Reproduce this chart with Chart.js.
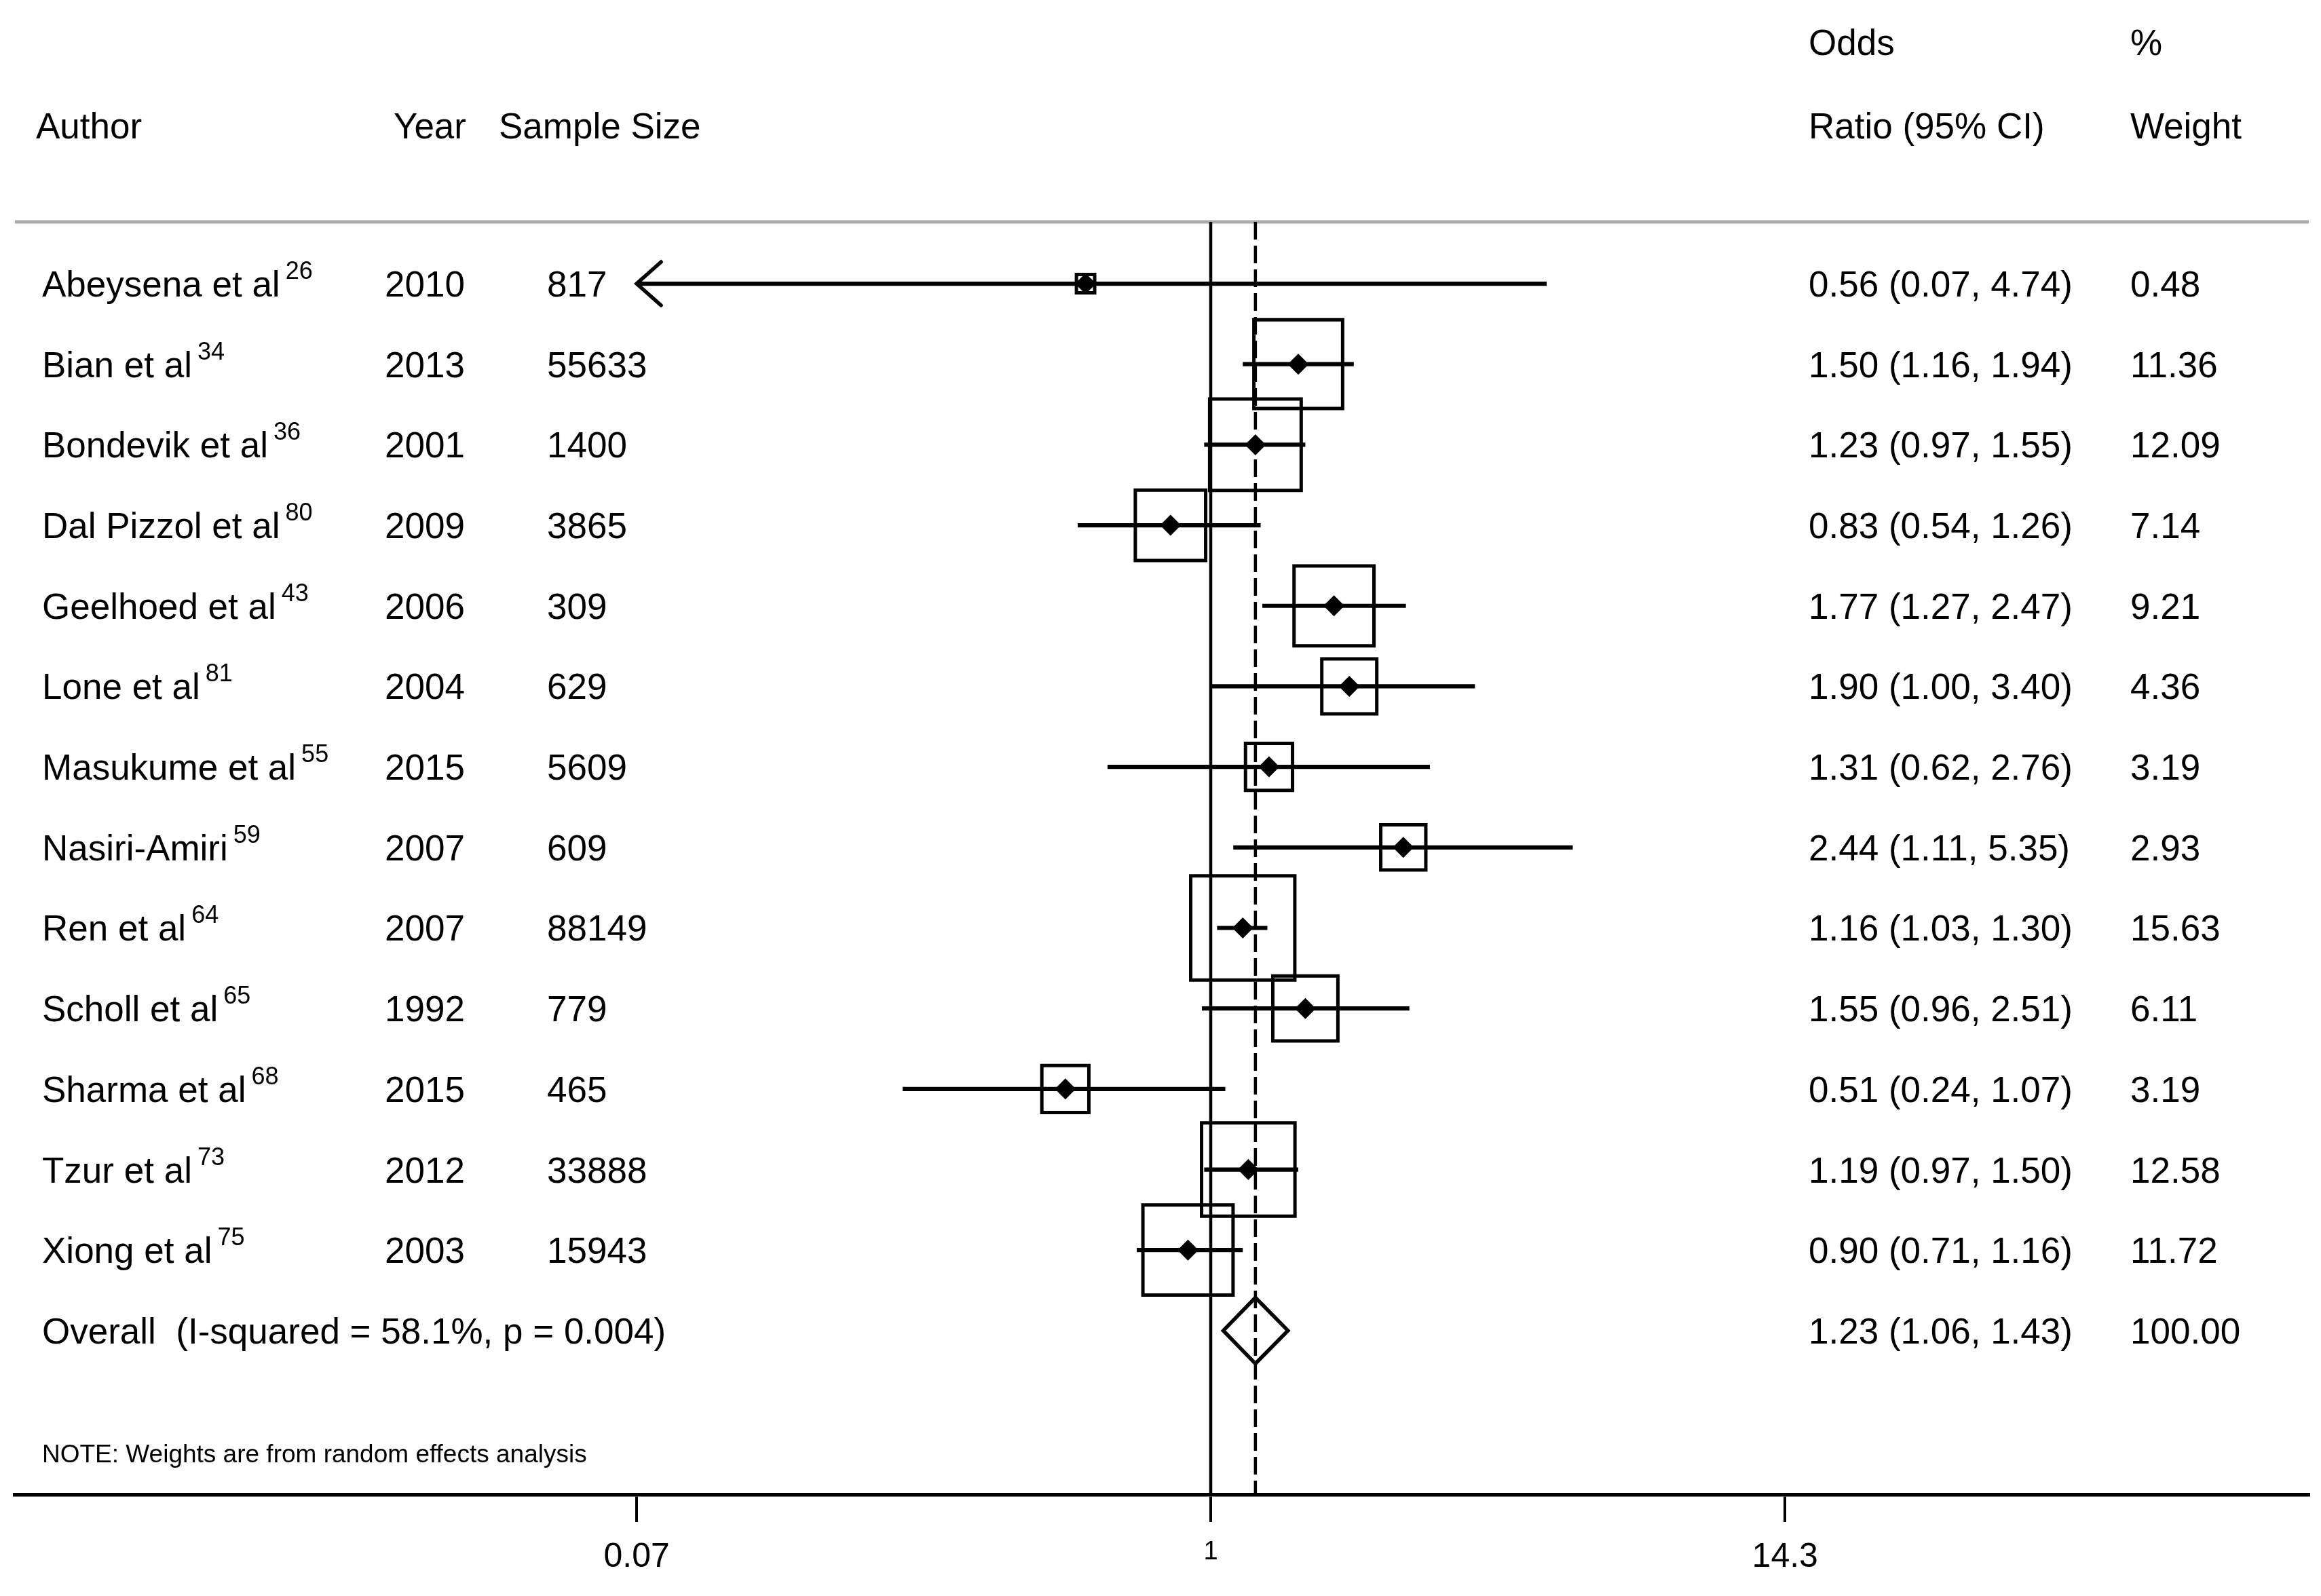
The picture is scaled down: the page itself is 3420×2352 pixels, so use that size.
<!DOCTYPE html>
<html>
<head>
<meta charset="utf-8">
<script src="https://cdn.jsdelivr.net/npm/chart.js@4.4.1/dist/chart.umd.min.js"></script>
<style>
html,body{margin:0;padding:0;background:#fff;}
#wrap{width:3420px;height:2352px;position:relative;}
canvas{display:block;}
</style>
</head>
<body>
<div id="wrap"><canvas id="c" width="3420" height="2352"></canvas></div>
<script>
// ---------- data ----------
const authors = ['Abeysena et al','Bian et al','Bondevik et al','Dal Pizzol et al','Geelhoed et al','Lone et al','Masukume et al','Nasiri-Amiri','Ren et al','Scholl et al','Sharma et al','Tzur et al','Xiong et al'];
const refNumbers = ['26','34','36','80','43','81','55','59','64','65','68','73','75'];
const years = ['2010','2013','2001','2009','2006','2004','2015','2007','2007','1992','2015','2012','2003'];
const sampleSizes = ['817','55633','1400','3865','309','629','5609','609','88149','779','465','33888','15943'];
const oddsRatios = [0.56,1.50,1.23,0.83,1.77,1.90,1.31,2.44,1.16,1.55,0.51,1.19,0.90];
const ciLower = [0.07,1.16,0.97,0.54,1.27,1.00,0.62,1.11,1.03,0.96,0.24,0.97,0.71];
const ciUpper = [4.74,1.94,1.55,1.26,2.47,3.40,2.76,5.35,1.30,2.51,1.07,1.50,1.16];
const weights = [0.48,11.36,12.09,7.14,9.21,4.36,3.19,2.93,15.63,6.11,3.19,12.58,11.72];
const overallLabel = 'Overall  (I-squared = 58.1%, p = 0.004)';
const overallOR = [1.23];
const overallLower = [1.06];
const overallUpper = [1.43];
const overallWeight = ['100.00'];
const xTickValues = [0.07, 1, 14.3];
const xTickLabels = ['0.07', '1', '14.3'];
const noteText = 'NOTE: Weights are from random effects analysis';

// ---------- style / layout ----------
const FONT = '"Liberation Sans", Arial, Helvetica, sans-serif';
const X_MIN = 0.00393, X_MAX = 161.8;
const Y_MIN = -0.767, Y_MAX = 15.04;
const BOX_SCALE = 38.8;          // box side (px) per sqrt(weight)
const DIAMOND_HALF = 0.41;       // overall diamond half height (row units)
const overallRow = authors.length;

const fmt = v => v.toFixed(2);

const boxData = oddsRatios.map((v, i) => ({x: v, y: i}));
const boxRadius = weights.map(w => BOX_SCALE * Math.sqrt(w) / (2 * Math.SQRT1_2));

const datasets = [];
datasets.push({
  label: 'markers', type: 'scatter', order: 0,
  data: boxData, pointStyle: 'rectRot', pointRadius: 15.5,
  pointBackgroundColor: '#000', pointBorderWidth: 0, showLine: false
});
oddsRatios.forEach((v, i) => {
  datasets.push({
    label: 'ci' + i, type: 'line', order: 1,
    data: [{x: ciLower[i], y: i}, {x: ciUpper[i], y: i}],
    borderColor: '#000', borderWidth: 6.2, pointRadius: 0, fill: false, tension: 0,
    borderCapStyle: 'butt'
  });
});
datasets.push({
  label: 'boxes', type: 'scatter', order: 2,
  data: boxData, pointStyle: 'rect', pointRadius: boxRadius,
  pointBackgroundColor: 'rgba(0,0,0,0)', pointBorderColor: '#000', pointBorderWidth: 5,
  showLine: false
});
datasets.push({
  label: 'overall', type: 'line', order: 1,
  data: [
    {x: overallLower[0], y: overallRow},
    {x: overallOR[0], y: overallRow - DIAMOND_HALF},
    {x: overallUpper[0], y: overallRow},
    {x: overallOR[0], y: overallRow + DIAMOND_HALF},
    {x: overallLower[0], y: overallRow},
    {x: overallOR[0], y: overallRow - DIAMOND_HALF}
  ],
  borderColor: '#000', borderWidth: 5.5, pointRadius: 0, fill: false, tension: 0,
  borderJoinStyle: 'miter'
});
datasets.push({
  label: 'null', type: 'line', order: 3,
  data: [{x: 1, y: Y_MIN}, {x: 1, y: Y_MAX}],
  borderColor: '#000', borderWidth: 4.5, pointRadius: 0, fill: false
});
datasets.push({
  label: 'overallLine', type: 'line', order: 3,
  data: [{x: overallOR[0], y: Y_MIN}, {x: overallOR[0], y: Y_MAX}],
  borderColor: '#000', borderWidth: 4.5, borderDash: [26, 9], pointRadius: 0, fill: false
});

// ---------- text / decorations plugin ----------
const tablePlugin = {
  id: 'tablePlugin',
  beforeDatasetsDraw(chart) {
    const {ctx, chartArea} = chart;
    ctx.save();
    ctx.strokeStyle = '#ababab';
    ctx.lineWidth = 5;
    ctx.beginPath();
    ctx.moveTo(chartArea.left, chartArea.top);
    ctx.lineTo(chartArea.right, chartArea.top);
    ctx.stroke();
    ctx.restore();
  },
  afterDatasetsDraw(chart) {
    const {ctx} = chart;
    const xs = chart.scales.x, ys = chart.scales.y;
    ctx.save();
    ctx.fillStyle = '#000';
    ctx.textBaseline = 'alphabetic';
    const main = '53px ' + FONT;
    const sup = '36px ' + FONT;

    ctx.font = main;
    ctx.textAlign = 'left';
    ctx.fillText('Author', 53, 204);
    ctx.textAlign = 'right';
    ctx.fillText('Year', 687, 204);
    ctx.textAlign = 'left';
    ctx.fillText('Sample Size', 735, 204);
    ctx.fillText('Odds', 2665, 81);
    ctx.fillText('Ratio (95% CI)', 2665, 204);
    ctx.fillText('%', 3139, 81);
    ctx.fillText('Weight', 3139, 204);

    authors.forEach((a, i) => {
      const base = ys.getPixelForValue(i) + 19;
      ctx.font = main;
      ctx.textAlign = 'left';
      ctx.fillText(a, 62, base);
      const w = ctx.measureText(a).width;
      ctx.font = sup;
      ctx.fillText(refNumbers[i], 62 + w + 8, base - 26);
      ctx.font = main;
      ctx.textAlign = 'right';
      ctx.fillText(years[i], 685, base);
      ctx.textAlign = 'left';
      ctx.fillText(sampleSizes[i], 806, base);
      ctx.fillText(fmt(oddsRatios[i]) + ' (' + fmt(ciLower[i]) + ', ' + fmt(ciUpper[i]) + ')', 2665, base);
      ctx.fillText(fmt(weights[i]), 3139, base);
    });
    const ob = ys.getPixelForValue(overallRow) + 19;
    ctx.font = main;
    ctx.textAlign = 'left';
    ctx.fillText(overallLabel, 62, ob);
    ctx.fillText(fmt(overallOR[0]) + ' (' + fmt(overallLower[0]) + ', ' + fmt(overallUpper[0]) + ')', 2665, ob);
    ctx.fillText(overallWeight[0], 3139, ob);

    ctx.font = '37px ' + FONT;
    ctx.fillText(noteText, 62, 2155);

    ctx.strokeStyle = '#000';
    ctx.lineWidth = 5.5;
    ctx.lineCap = 'round';
    ctx.lineJoin = 'miter';
    ciLower.forEach((lo, i) => {
      if (lo <= xTickValues[0]) {
        const px = xs.getPixelForValue(lo);
        const py = ys.getPixelForValue(i);
        ctx.beginPath();
        ctx.moveTo(px + 36, py - 32);
        ctx.lineTo(px, py);
        ctx.lineTo(px + 36, py + 32);
        ctx.stroke();
      }
    });
    ctx.restore();
  }
};

new Chart(document.getElementById('c'), {
  type: 'scatter',
  data: {datasets},
  options: {
    responsive: false,
    devicePixelRatio: 1,
    animation: false,
    events: [],
    layout: {autoPadding: false, padding: {top: 327, left: 22, right: 18, bottom: 0}},
    plugins: {legend: {display: false}, tooltip: {enabled: false}},
    scales: {
      x: {
        type: 'logarithmic',
        position: 'bottom',
        min: X_MIN, max: X_MAX,
        bounds: 'data',
        afterBuildTicks: (scale) => { scale.ticks = xTickValues.map(v => ({value: v})); },
        afterFit: (scale) => { scale.height = 149; },
        grid: {display: true, drawOnChartArea: false, drawTicks: true, tickLength: 40, tickWidth: 4, tickColor: '#000', color: '#000', lineWidth: 4},
        border: {display: true, color: '#000', width: 5.5},
        ticks: {
          autoSkip: false, maxRotation: 0, minRotation: 0, padding: 22, color: '#000',
          callback: (v, i) => xTickLabels[i],
          font: (ctx) => ({family: FONT, size: (ctx.tick && ctx.tick.value === 1) ? 38 : 50})
        }
      },
      y: {
        type: 'linear', display: false, reverse: true,
        min: Y_MIN, max: Y_MAX, bounds: 'data'
      }
    }
  },
  plugins: [tablePlugin]
});
</script>
</body>
</html>
